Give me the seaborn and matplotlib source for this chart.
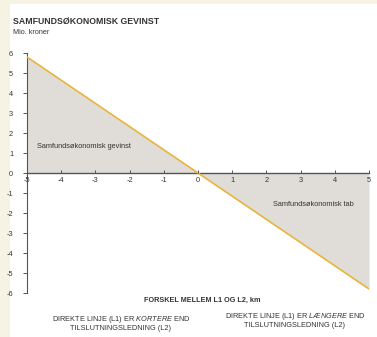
import matplotlib
matplotlib.use("Agg")
import matplotlib.pyplot as plt
import seaborn as sns
import pandas as pd
from matplotlib.patches import Rectangle

# Data
x_vals = [-5, 0, 5]
y_vals = [5.8, 0, -5.8]
x_ticks = [-5, -4, -3, -2, -1, 0, 1, 2, 3, 4, 5]
y_ticks = [-6, -5, -4, -3, -2, -1, 0, 1, 2, 3, 4, 5, 6]

title = "SAMFUNDSØKONOMISK GEVINST"
subtitle = "Mio. kroner"
xlabel = "FORSKEL MELLEM L1 OG L2, km"
gain_label = "Samfundsøkonomisk gevinst"
loss_label = "Samfundsøkonomisk tab"

sns.set_theme(style="white")
plt.rcParams["font.family"] = ["Liberation Sans", "DejaVu Sans"]
plt.rcParams["mathtext.fontset"] = "custom"
plt.rcParams["mathtext.it"] = "Liberation Sans:italic"
plt.rcParams["mathtext.rm"] = "Liberation Sans"

df = pd.DataFrame({"x": x_vals, "y": y_vals})

fig = plt.figure(figsize=(3.77, 3.37), dpi=100)
fig.patch.set_facecolor("#f6f2e4")
bg = Rectangle((10 / 377, 0), 1, 1 - 4 / 337, transform=fig.transFigure,
               facecolor="white", edgecolor="none", zorder=-10)
fig.add_artist(bg)

ax = fig.add_axes([27 / 377, 1 - 293 / 337, (369 - 27) / 377, (293 - 53) / 337])
ax.set_facecolor("none")
ax.set_zorder(1)

ax.fill_between(df["x"], df["y"], 0, color="#e0ddd8", linewidth=0, zorder=0.5)
sns.lineplot(data=df, x="x", y="y", ax=ax, color="#e9b43c", linewidth=1.2, zorder=3)

ax.set_xlim(-5, 5)
ax.set_ylim(-6, 6)
ax.set_xticks(x_ticks)
ax.set_yticks(y_ticks)
ax.set_xticklabels([str(t) for t in x_ticks])
ax.set_yticklabels([str(t) for t in y_ticks])
ax.set_xlabel("")
ax.set_ylabel("")

for s in ["top", "right"]:
    ax.spines[s].set_visible(False)
ax.spines["bottom"].set_position(("data", 0))
ax.spines["bottom"].set_color("#555555")
ax.spines["bottom"].set_linewidth(1.0)
ax.spines["bottom"].set_zorder(2)
ax.spines["left"].set_color("#555555")
ax.spines["left"].set_linewidth(0.8)
ax.xaxis.set_zorder(5)
ax.yaxis.set_zorder(5)

ax.tick_params(axis="y", which="both", left=True, length=3, width=0.7, color="#555555",
               labelsize=5.3, labelcolor="#333333", pad=7)
ax.tick_params(axis="x", which="both", bottom=True, length=2, width=0.7, color="#555555",
               labelsize=5.3, labelcolor="#333333", pad=3, direction="in")

ax.text(-4.72, 1.35, gain_label, fontsize=5.3, color="#333333", ha="left", va="center", zorder=4)
ax.text(2.2, -1.55, loss_label, fontsize=5.3, color="#333333", ha="left", va="center", zorder=4)

fig.text(13 / 377, 1 - 22 / 337, title, fontsize=6.3, fontweight="bold", color="#333333",
         ha="left", va="center")
fig.text(13 / 377, 1 - 33 / 337, subtitle, fontsize=5.2, color="#333333", ha="left", va="center")
fig.text(202 / 377, 1 - 300 / 337, xlabel, fontsize=5.2, fontweight="bold", color="#333333",
         ha="center", va="center")
fig.text(121 / 377, 1 - 323 / 337,
         "DIREKTE LINJE (L1) ER $\\it{KORTERE}$ END\nTILSLUTNINGSLEDNING (L2)",
         fontsize=5.3, color="#333333", ha="center", va="center", linespacing=1.1)
fig.text(295 / 377, 1 - 320 / 337,
         "DIREKTE LINJE (L1) ER $\\it{LÆNGERE}$ END\nTILSLUTNINGSLEDNING (L2)",
         fontsize=5.3, color="#333333", ha="center", va="center", linespacing=1.1)

fig.savefig("out.png", dpi=100)
